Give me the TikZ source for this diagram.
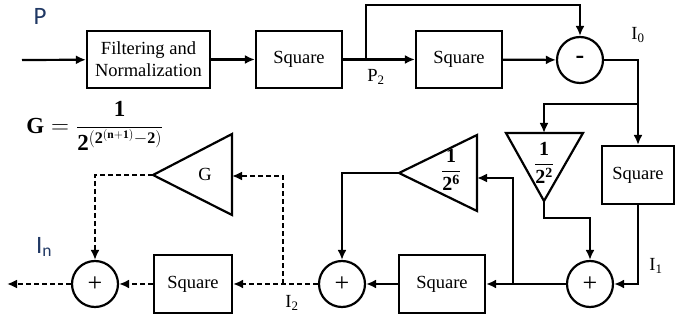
\documentclass[tikz,border=0pt]{standalone}
\usepackage{fontspec}
\setmainfont{Liberation Serif}
\newfontfamily\lblfont{Carlito}
\usetikzlibrary{arrows.meta}
\definecolor{navy}{RGB}{32,56,100}

\begin{document}
\begin{tikzpicture}[x=1pt,y=-1pt,line width=2.2pt,>={Latex[length=10pt,width=9pt]},
  every node/.style={font=\fontsize{18.5}{22}\selectfont},
  blk/.style={draw,minimum height=57pt,inner sep=2pt,align=center},
  sum/.style={draw,circle,minimum size=46pt,inner sep=0pt,font=\fontsize{26}{26}\selectfont},
  dsh/.style={dash pattern=on 5pt off 3pt},
  lbl/.style={text=navy,font=\lblfont\fontsize{25}{26}\selectfont}]
\useasboundingbox (0,0) rectangle (675,320);
\node[blk,minimum width=123pt] (filt) at (148.5,59.5) {Filtering and\\Normalization};
\node[blk,minimum width=86pt] (sq1) at (299,59.5) {Square};
\node[blk,minimum width=86pt] (sq2) at (459,59.5) {Square};
\node[sum] (sub) at (580,60) {\textbf{-}};
\node[blk,minimum width=72pt,minimum height=58pt] (sq3) at (638,175) {Square};
\node[sum] (add1) at (590,284) {+};
\node[blk,minimum width=86pt,minimum height=58pt] (sq4) at (442,284) {Square};
\node[sum] (add2) at (342,284) {+};
\node[blk,minimum width=78pt,minimum height=58pt] (sq5) at (193,284) {Square};
\node[sum] (add3) at (95,284) {+};
\coordinate (t2a) at (506,133); \coordinate (t2b) at (583,133); \coordinate (t2c) at (544,201);
\coordinate (t6a) at (477,135); \coordinate (t6b) at (477,211); \coordinate (t6c) at (399,173);
\coordinate (tga) at (232,134); \coordinate (tgb) at (232,215); \coordinate (tgc) at (153,175);
\draw (t2a)--(t2b)--(t2c)--cycle;
\draw (t6a)--(t6b)--(t6c)--cycle;
\draw (tga)--(tgb)--(tgc)--cycle;
\node[font=\fontsize{20}{24}\selectfont] (t2lbl) at (544,163) {$\displaystyle\frac{\mathbf{1}}{\mathbf{2}^{\mathbf{2}}}$};
\node[font=\fontsize{20}{24}\selectfont] (t6lbl) at (451,170) {$\displaystyle\frac{\mathbf{1}}{\mathbf{2}^{\mathbf{6}}}$};
\node (tglbl) at (205,174) {G};
\coordinate (in) at (22,60); \coordinate (p2) at (366,60); \coordinate (i0) at (638,60);
\coordinate (j1) at (638,104); \coordinate (t2in) at (544,133);
\coordinate (j2) at (513,284); \coordinate (t6in) at (477,178);
\coordinate (i2) at (283,284); \coordinate (tgin) at (232,176); \coordinate (out) at (7,284);
\draw[->] (in) -- (filt);
\draw[->] (filt) -- (sq1);
\draw[->] (sq1) -- (sq2);
\draw[->] (p2) -- ++(0,-55) -| (sub);
\draw[->] (sq2) -- (sub);
\draw[->] (sub) -- (i0) -- (sq3);
\draw[->] (j1) -| (t2in);
\draw[->] (t2c) -- ++(0,17) -| (add1);
\draw[->] (sq3) |- (add1);
\draw[->] (add1) -- (sq4);
\draw[->] (j2) |- (t6in);
\draw[->] (t6c) -| (add2);
\draw[->] (sq4) -- (add2);
\draw[dsh,->] (add2) -- (sq5);
\draw[dsh,->] (i2) |- (tgin);
\draw[dsh,->] (tgc) -| (add3);
\draw[dsh,->] (sq5) -- (add3);
\draw[dsh,->] (add3) -- (out);
\node[lbl] (plbl) at (40,16) {P};
\node[lbl] (inlbl) at (44,247) {I\textsubscript{n}};
\node (p2lbl) at (376,77) {P\textsubscript{2}};
\node (i0lbl) at (638,35) {I\textsubscript{0}};
\node (i1lbl) at (656,266) {I\textsubscript{1}};
\node (i2lbl) at (292,303) {I\textsubscript{2}};
\node[anchor=west,font=\fontsize{23}{26}\selectfont] (gform) at (22,126)
  {$\mathbf{G}=\displaystyle\frac{\mathbf{1}}{\mathbf{2}^{(\mathbf{2}^{(\mathbf{n+1})}-\mathbf{2})}}$};
\end{tikzpicture}
\end{document}
